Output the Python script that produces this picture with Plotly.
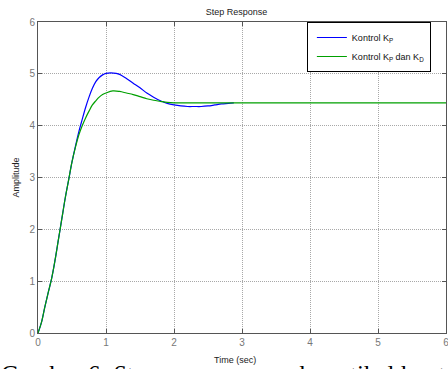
import plotly.graph_objects as go

# Data
t_kp = [0, 0.05, 0.1, 0.15, 0.2, 0.25, 0.3, 0.35, 0.4, 0.45, 0.5, 0.55, 0.6, 0.65, 0.7, 0.75,
        0.8, 0.85, 0.9, 0.95, 1.0, 1.07, 1.15, 1.2, 1.3, 1.4, 1.5, 1.6, 1.7, 1.8, 1.9, 2.0,
        2.1, 2.2, 2.3, 2.4, 2.5, 2.6, 2.7, 2.8, 2.88]
y_kp = [0, 0.2, 0.5, 0.78, 1.05, 1.4, 1.8, 2.2, 2.6, 2.95, 3.3, 3.6, 3.88, 4.12, 4.35, 4.55,
        4.72, 4.85, 4.93, 4.98, 5.01, 5.02, 5.01, 4.99, 4.91, 4.82, 4.73, 4.63, 4.55, 4.48, 4.43, 4.40,
        4.38, 4.37, 4.37, 4.37, 4.38, 4.40, 4.42, 4.43, 4.44]

t_kpd = [0, 0.05, 0.1, 0.15, 0.2, 0.25, 0.3, 0.35, 0.4, 0.45, 0.5, 0.55, 0.6, 0.65, 0.7, 0.75,
         0.8, 0.85, 0.9, 0.95, 1.0, 1.1, 1.2, 1.3, 1.4, 1.5, 1.6, 1.7, 1.8, 1.9, 2.0, 2.2,
         2.5, 3.0, 4.0, 5.0, 6.0]
y_kpd = [0, 0.2, 0.5, 0.78, 1.05, 1.4, 1.8, 2.2, 2.6, 2.95, 3.3, 3.58, 3.82, 4.0, 4.15, 4.28,
         4.4, 4.48, 4.55, 4.6, 4.63, 4.67, 4.66, 4.63, 4.60, 4.56, 4.52, 4.49, 4.47, 4.45, 4.44, 4.44,
         4.44, 4.44, 4.44, 4.44, 4.44]

x_ticks = [0, 1, 2, 3, 4, 5, 6]
y_ticks = [0, 1, 2, 3, 4, 5, 6]

title_text = "Step Response"
x_title = "Time (sec)"
y_title = "Amplitude"
name_kp = "Kontrol K<sub>P</sub>"
name_kpd = "Kontrol K<sub>P</sub> dan K<sub>D</sub>"
caption = "Gambar 6. <i>Step response</i> gerak vertikal kontrol"

FONT = "Liberation Sans, Arial"

fig = go.Figure()
fig.add_trace(go.Scatter(x=t_kp, y=y_kp, mode="lines", name=name_kp,
                         line=dict(color="#0000ff", width=1.2, shape="spline")))
fig.add_trace(go.Scatter(x=t_kpd, y=y_kpd, mode="lines", name=name_kpd,
                         line=dict(color="#00a000", width=1.2, shape="spline")))

axis_common = dict(
    automargin=False,
    showline=True, linecolor="#555555", linewidth=1, mirror="ticks",
    ticks="inside", ticklen=4, tickcolor="#555555",
    showgrid=True, gridcolor="#a8a8a8", griddash="1px,1px", gridwidth=1,
    zeroline=False, ticklabeloverflow="allow",
    tickfont=dict(family=FONT, size=10, color="#777777"),
)

fig.update_layout(
    width=448, height=369,
    margin=dict(l=38, r=2, t=22, b=36),
    paper_bgcolor="white", plot_bgcolor="white",
    hovermode=False,
    title=dict(text=title_text, x=0.528, xanchor="center", y=0.9675, yanchor="middle",
               font=dict(family=FONT, size=9, color="#222222")),
    xaxis=dict(range=[0, 6], tickvals=x_ticks, **axis_common),
    yaxis=dict(range=[0, 6], tickvals=y_ticks, **axis_common,
               title=dict(text=y_title, standoff=8,
                          font=dict(family=FONT, size=9, color="#222222"))),
    legend=dict(x=0.659, y=1.0, xanchor="left", yanchor="top", indentation=4,
                bgcolor="white", bordercolor="black", borderwidth=1,
                font=dict(family=FONT, size=9, color="#111111")),
    showlegend=True,
)

fig.add_annotation(text=caption, xref="paper", yref="paper", x=-0.095, y=-0.0847,
                   xanchor="left", yanchor="top", showarrow=False,
                   font=dict(family="Liberation Serif, Times New Roman", size=25, color="black"))

# x-axis title placed as in the reference (slightly left of centre)
fig.add_annotation(text=x_title, xref="paper", yref="paper", x=0.483, y=-0.0868,
                   xanchor="center", yanchor="middle", showarrow=False,
                   font=dict(family=FONT, size=9, color="#222222"))

fig.write_html("out.html", config={"displayModeBar": False, "staticPlot": True},
               post_script="document.body.style.margin='0px';document.body.style.padding='0px';document.body.style.overflow='hidden';")
